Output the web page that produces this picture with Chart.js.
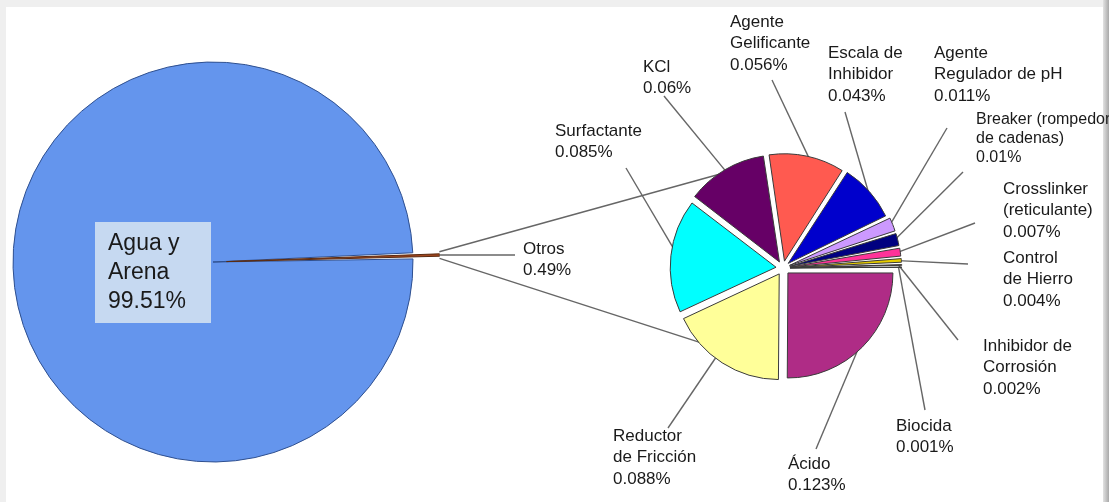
<!DOCTYPE html>
<html lang="es">
<head>
<meta charset="utf-8">
<title>Composición del fluido de fractura</title>
<script src="https://cdn.jsdelivr.net/npm/chart.js@4.4.1/dist/chart.umd.min.js"></script>
<style>
  html, body { margin: 0; padding: 0; }
  body { position: relative; width: 1109px; height: 502px; background: #efefef; overflow: hidden; }
  .marco { position: absolute; left: 6px; top: 7px; width: 1097px; height: 495px; background: #fff; }
  .borde { position: absolute; left: 1103px; top: 0; width: 6px; height: 502px;
           background: linear-gradient(to right, #e2e2e2, #a9a9a9); }
  .capa { position: absolute; left: 0; top: 0; width: 1109px; height: 502px; }
</style>
</head>
<body>
<div class="marco"></div>
<div class="borde"></div>
<div class="capa"><canvas id="pieTotal"></canvas></div>
<div class="capa"><canvas id="pieOtros"></canvas></div>
<script>
// composición total
const totalLabels = [['Agua y', 'Arena'], ['Otros']];
const totalValues = [99.51, 0.49];
const totalColors = ['#6495ED', '#A0461E'];

// desglose de "Otros"
const otrosLabels = [
    ['Ácido'],
    ['Reductor', 'de Fricción'],
    ['Surfactante'],
    ['KCl'],
    ['Agente', 'Gelificante'],
    ['Escala de', 'Inhibidor'],
    ['Agente', 'Regulador de pH'],
    ['Breaker (rompedor', 'de cadenas)'],
    ['Crosslinker', '(reticulante)'],
    ['Control', 'de Hierro'],
    ['Inhibidor de', 'Corrosión'],
    ['Biocida']
];
const otrosValues = [0.123, 0.088, 0.085, 0.06, 0.056, 0.043, 0.011, 0.01, 0.007, 0.004, 0.002, 0.001];
const otrosColors = ['#AF2C86', '#FFFF99', '#00FFFF', '#660066', '#FF5A50', '#0000CC',
                     '#CC99FF', '#000080', '#FF3399', '#E6CC00', '#B35A1F', '#333333'];

// posición de cada etiqueta: texto (x, y de la primera línea), inicio de la guía y punto sobre la porción (t)
const etiquetas = [
    { x: 788, y: 464, desde: [816, 449], t: 0.5 },
    { x: 613, y: 436, desde: [668, 428], t: 0.57 },
    { x: 555, y: 131, desde: [626, 168], t: 0.55 },
    { x: 643, y: 67,  desde: [664, 96],  t: 0.5 },
    { x: 730, y: 22,  desde: [772, 80],  t: 0.55 },
    { x: 828, y: 53,  desde: [845, 112], t: 0.58 },
    { x: 934, y: 53,  desde: [947, 128], t: 0.5 },
    { x: 976, y: 120, desde: [963, 172], t: 0.5, chica: true },
    { x: 1003, y: 189, desde: [975, 223], t: 0.5 },
    { x: 1003, y: 258, desde: [968, 264], t: 0.5 },
    { x: 983, y: 346, desde: [958, 340], t: 0.5 },
    { x: 896, y: 426, desde: [925, 410], t: 0.5 }
];

const fuente = '"Liberation Sans", Arial, sans-serif';
const colorTexto = '#1a1a1a';
const colorGuia = '#666666';

// desplazamiento que aplica ArcElement al dibujar una porción con offset
function desplazamiento(arc) {
    const p = arc.getProps(['startAngle', 'endAngle'], true);
    const circ = p.endAngle - p.startAngle;
    const base = (arc.options.offset || 0) / 4;
    return { mover: base, extra: base * (1 - Math.sin(Math.min(Math.PI, circ))) };
}

// punto sobre el borde de una porción, a la fracción t de su ángulo
function puntoArco(arc, t, frac) {
    const p = arc.getProps(['x', 'y', 'startAngle', 'endAngle', 'outerRadius'], true);
    const d = desplazamiento(arc);
    const medio = (p.startAngle + p.endAngle) / 2;
    const a = p.startAngle + t * (p.endAngle - p.startAngle);
    const r = (p.outerRadius + d.extra) * frac;
    return [p.x + Math.cos(medio) * d.mover + Math.cos(a) * r,
            p.y + Math.sin(medio) * d.mover + Math.sin(a) * r];
}

function linea(ctx, a, b) {
    ctx.beginPath();
    ctx.moveTo(a[0], a[1]);
    ctx.lineTo(b[0], b[1]);
    ctx.stroke();
}

function textoLineas(ctx, lineas, x, y, paso) {
    lineas.forEach(function(l, i) {
        ctx.fillText(l, x, y + i * paso);
    });
}

// caja con el texto de agua y arena
const cajaAgua = {
    id: 'cajaAgua',
    afterDatasetsDraw: function(chart) {
        const ctx = chart.ctx;
        ctx.save();
        ctx.fillStyle = '#C6D9F1';
        ctx.fillRect(95, 222, 116, 101);
        ctx.fillStyle = colorTexto;
        ctx.font = '23px ' + fuente;
        ctx.textBaseline = 'middle';
        ctx.textAlign = 'left';
        textoLineas(ctx, totalLabels[0].concat([totalValues[0] + '%']), 108, 244, 29);
        ctx.restore();
    }
};

// guías, conectores y etiquetas del desglose
const guias = {
    id: 'guias',
    beforeDatasetsDraw: function(chart) {
        const ctx = chart.ctx;
        const otros = Chart.getChart('pieTotal').getDatasetMeta(0).data[1];
        const arcos = chart.getDatasetMeta(0).data;
        ctx.save();
        ctx.strokeStyle = colorGuia;
        ctx.lineWidth = 1.4;

        // conectores desde la porción "Otros" hacia el segundo pastel
        const puntaSup = puntoArco(otros, 0, 1);
        const puntaInf = puntoArco(otros, 1, 1);
        const punta = puntoArco(otros, 0.5, 1);
        linea(ctx, puntaSup, puntoArco(arcos[3], 0.51, 0.97));
        linea(ctx, puntaInf, puntoArco(arcos[1], 0.72, 0.97));
        linea(ctx, punta, [515, punta[1]]);

        etiquetas.forEach(function(e, i) {
            linea(ctx, e.desde, puntoArco(arcos[i], e.t, 0.97));
        });
        ctx.restore();
    },
    afterDraw: function(chart) {
        const ctx = chart.ctx;
        ctx.save();
        ctx.fillStyle = colorTexto;
        ctx.textBaseline = 'middle';
        ctx.textAlign = 'left';

        ctx.font = '17px ' + fuente;
        textoLineas(ctx, totalLabels[1].concat([totalValues[1] + '%']), 523, 249, 21);

        etiquetas.forEach(function(e, i) {
            ctx.font = (e.chica ? '16px ' : '17px ') + fuente;
            textoLineas(ctx, otrosLabels[i].concat([otrosValues[i] + '%']), e.x, e.y, e.chica ? 19 : 21.5);
        });
        ctx.restore();
    }
};

const sinExtras = {
    legend: { display: false },
    tooltip: { enabled: false }
};

new Chart(document.getElementById('pieTotal'), {
    type: 'pie',
    data: {
        labels: totalLabels.map(function(l) { return l.join(' '); }),
        datasets: [{
            data: totalValues,
            backgroundColor: totalColors,
            borderColor: ['#2E4F8F', '#5A2A10'],
            borderWidth: 1,
            offset: [0, 54]
        }]
    },
    options: {
        responsive: true,
        maintainAspectRatio: false,
        animation: false,
        events: [],
        radius: 200,
        rotation: 90 + (totalValues[1] / 2) / 100 * 360 - 360 * totalValues[1] / 100,
        layout: { padding: { left: 0, right: 683, top: 22, bottom: 0 } },
        plugins: sinExtras
    },
    plugins: [cajaAgua]
});

new Chart(document.getElementById('pieOtros'), {
    type: 'pie',
    data: {
        labels: otrosLabels.map(function(l) { return l.join(' '); }),
        datasets: [{
            data: otrosValues,
            backgroundColor: otrosColors,
            borderColor: '#3a3a3a',
            borderWidth: 1,
            offset: 28
        }]
    },
    options: {
        responsive: true,
        maintainAspectRatio: false,
        animation: false,
        events: [],
        radius: 105,
        rotation: 90,
        layout: { padding: { left: 457, right: 0, top: 34, bottom: 0 } },
        plugins: sinExtras
    },
    plugins: [guias]
});
</script>
</body>
</html>
